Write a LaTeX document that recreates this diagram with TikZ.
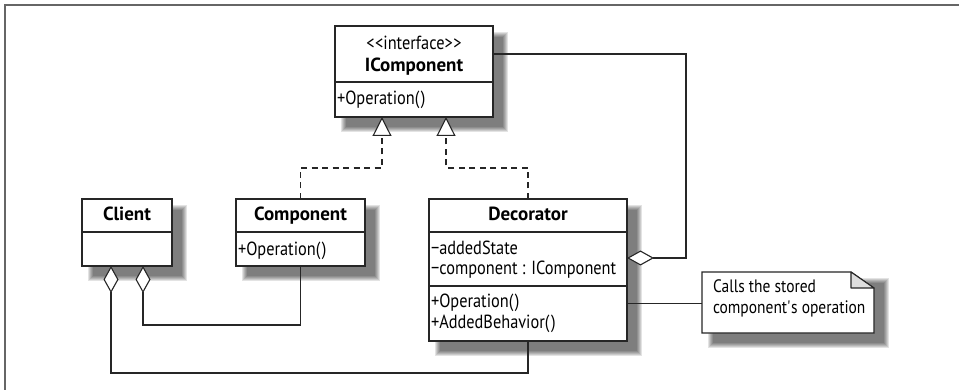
\documentclass[tikz,border=0pt]{standalone}
\usepackage{fontspec}
\setmainfont{PT Sans}[FakeStretch=0.86, BoldFeatures={FakeStretch=1.0}]
\usetikzlibrary{arrows.meta,backgrounds,calc}
\newcommand\dshadow[1]{%
  \foreach \i in {0,...,5}{%
    \fill[black,opacity=0.11] ([xshift=6pt+\i*1pt,yshift=-6pt-\i*1pt]#1.north west) rectangle ([xshift=15pt-\i*1pt,yshift=-15pt+\i*1pt]#1.south east);}}
\begin{document}
\begin{tikzpicture}[x=1pt,y=-1pt,
  every node/.style={font=\fontsize{19}{22}\selectfont, inner sep=0pt, outer sep=0pt},
  umlline/.style={draw=black!85, line width=1.1pt},
  umlbox/.style={umlline, fill=white, anchor=north west},
  ttl/.style={anchor=base, font=\fontsize{19}{22}\selectfont\bfseries},
  stx/.style={anchor=base},
  txt/.style={anchor=base west},
  notetxt/.style={anchor=base west, font=\fontsize{18}{22}\selectfont},
  real/.style={umlline, dash pattern=on 6pt off 4.5pt, -{Triangle[width=19pt,length=19pt,fill=white]}},
  agg/.style={umlline, {Diamond[width=15pt,length=27pt,fill=white]}-},
  frame/.style={draw=black!60, line width=1.8pt}]
\useasboundingbox (0,0) rectangle (959,390);
\draw[frame] (5,390) -- (5,5) -- (959,5);

% boxes
\node[umlbox, minimum width=158pt, minimum height=91pt] (ic) at (335,26) {};
\node[umlbox, minimum width=90pt, minimum height=67pt] (client) at (82,199) {};
\node[umlbox, minimum width=129pt, minimum height=67pt] (comp) at (236,199) {};
\node[umlbox, minimum width=198pt, minimum height=142pt] (dec) at (429,199) {};
\node[minimum width=172pt, minimum height=61pt, anchor=north west] (note) at (702,272) {};

% note outline
\draw[umlline, fill=white] (note.north west) -- ([xshift=-23pt]note.north east) -- ([yshift=-16pt]note.north east) -- (note.south east) -- (note.south west) -- cycle;
\draw[umlline, fill=black!13, line join=round] ([xshift=-23pt]note.north east) -- ([xshift=-23pt,yshift=-16pt]note.north east) -- ([yshift=-16pt]note.north east) -- cycle;

% dividers
\draw[umlline] ([yshift=-56pt]ic.north west) -- ([yshift=-56pt]ic.north east);
\draw[umlline] ([yshift=-33pt]client.north west) -- ([yshift=-33pt]client.north east);
\draw[umlline] ([yshift=-33pt]comp.north west) -- ([yshift=-33pt]comp.north east);
\draw[umlline] ([yshift=-33pt]dec.north west) -- ([yshift=-33pt]dec.north east);
\draw[umlline] ([yshift=-87pt]dec.north west) -- ([yshift=-87pt]dec.north east);

% texts
\node[stx] (icst) at ([yshift=-24pt]ic.north) {<\kern0.5pt<interface>\kern0.5pt>};
\node[ttl] (icname) at ([yshift=-46pt]ic.north) {IComponent};
\node[txt] (icop) at ([xshift=2pt,yshift=-79pt]ic.north west) {+Operation(\kern1.5pt)};

\node[ttl] (clname) at ([yshift=-22pt]client.north) {Client};

\node[ttl] (coname) at ([yshift=-22pt]comp.north) {Component};
\node[txt] (coop) at ([xshift=2pt,yshift=-57pt]comp.north west) {+Operation(\kern1.5pt)};

\node[ttl] (dename) at ([yshift=-22pt]dec.north) {Decorator};
\node[txt] (deadd) at ([xshift=2pt,yshift=-56pt]dec.north west) {−addedState};
\node[txt] (decomp) at ([xshift=2pt,yshift=-76pt]dec.north west) {−component : IComponent};
\node[txt] (opdec) at ([xshift=2pt,yshift=-109pt]dec.north west) {+Operation(\kern1.5pt)};
\node[txt] (debeh) at ([xshift=2pt,yshift=-129pt]dec.north west) {+AddedBehavior(\kern1.5pt)};

\node[notetxt] (nt1) at ([xshift=11pt,yshift=-21pt]note.north west) {Calls the stored};
\node[notetxt] (nt2) at ([xshift=11pt,yshift=-41pt]note.north west) {component\textquotesingle s operation};

% connectors and shadows
\coordinate (t1) at ([xshift=-32pt]ic.south);
\coordinate (t2) at ([xshift=32pt]ic.south);
\coordinate (k1) at ([yshift=-51pt]t1);
\coordinate (k2) at ([yshift=-51pt]t2);
\coordinate (c1) at ([xshift=-16pt]client.south);
\coordinate (c2) at ([xshift=16pt]client.south);
\coordinate (k3) at ([yshift=-59pt]c2);
\coordinate (k4) at ([yshift=-107pt]c1);
\coordinate (d1) at ([yshift=12pt]dec.east);
\coordinate (k5) at ([xshift=59pt]d1);
\coordinate (k6) at ([yshift=17.5pt]ic.east);
\coordinate (opend) at ([xshift=9pt]opdec.east);

\begin{scope}[on background layer]
\dshadow{ic}
\dshadow{client}
\dshadow{comp}
\dshadow{dec}
\dshadow{note}
\draw[real] (comp.north) |- (k1) -- (t1);
\draw[real] (dec.north) |- (k2) -- (t2);
\draw[agg] (c2) -- (k3) -| (comp.south);
\draw[agg] (c1) -- (k4) -| (dec.south);
\draw[agg] (d1) -- (k5) |- (k6);
\draw[umlline] (opend) -- (opend -| note.west);
\end{scope}
\end{tikzpicture}
\end{document}
